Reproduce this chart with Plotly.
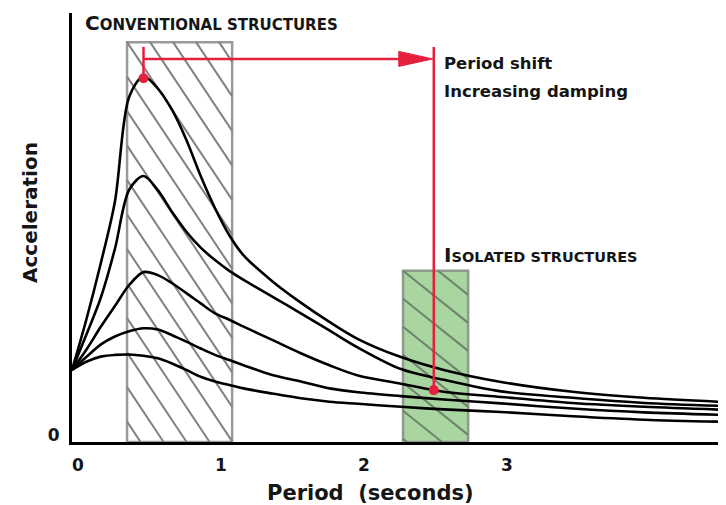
import numpy as np
import plotly.graph_objects as go

# ---------------- data ----------------
period = [0, 0.1, 0.2, 0.3, 0.4, 0.5, 0.6, 0.7, 0.8, 0.9, 1.0, 1.1, 1.2, 1.4, 1.6, 1.8,
          2.0, 2.3, 2.6, 3.0, 3.5, 4.0, 4.57]
accel_1 = [1.68, 2.85, 4.15, 5.60, 8.05, 8.52, 8.24, 7.74, 7.04, 6.20, 5.45, 4.82, 4.35,
           3.75, 3.25, 2.80, 2.40, 1.98, 1.68, 1.40, 1.17, 1.03, 0.93]
accel_2 = [1.68, 2.50, 3.35, 4.50, 5.88, 6.20, 5.87, 5.36, 4.90, 4.53, 4.24, 3.99, 3.78,
           3.39, 3.00, 2.60, 2.20, 1.70, 1.45, 1.18, 1.03, 0.91, 0.84]
accel_3 = [1.68, 2.15, 2.68, 3.17, 3.66, 3.96, 3.89, 3.70, 3.47, 3.23, 3.00, 2.85, 2.69,
           2.38, 2.07, 1.79, 1.55, 1.36, 1.17, 1.05, 0.91, 0.82, 0.75]
accel_4 = [1.68, 1.98, 2.27, 2.46, 2.58, 2.65, 2.62, 2.49, 2.34, 2.18, 2.03, 1.91, 1.79,
           1.56, 1.41, 1.25, 1.16, 1.07, 0.99, 0.90, 0.78, 0.69, 0.63]
accel_5 = [1.68, 1.87, 1.99, 2.03, 2.04, 2.01, 1.95, 1.83, 1.68, 1.52, 1.41, 1.33, 1.25,
           1.13, 1.02, 0.94, 0.89, 0.82, 0.76, 0.70, 0.60, 0.52, 0.47]
curves = [accel_1, accel_2, accel_3, accel_4, accel_5]

conv_band = [0.385, 1.12]     # period range of conventional structures
conv_top = 9.32
iso_band = [2.315, 2.77]      # period range of isolated structures
iso_top = 3.99

peak_point = [0.50, 8.48]     # conventional peak
iso_point = [2.53, 1.21]      # isolated point
shift_level = 8.93
marker_top = 9.21

x_ticks = [0, 1, 2, 3]
y_ticks = [0]

# ---------------- geometry ----------------
OFF = 8                      # page body margin
AX_L, AX_T, AX_B, AX_R = 72, 13, 442, 726   # plot box in window pixels
W, H = 726 - OFF, 505 - OFF
ML, MT = AX_L - OFF, AX_T - OFF
MR, MB = 0, H - (AX_B - OFF)
PW, PH = W - ML - MR, H - MT - MB
XMAX = PW / 143.0
YMAX = 10.0
PX_X = PW / XMAX
PX_Y = PH / YMAX

RED = "#e5203d"
FONT = "DejaVu Sans"
TXT = "#151515"


def paper_x(px):
    return (px - AX_L) / PW


def paper_y(py):
    return (AX_B - py) / PH


def hatch_segments(xa, xb, ya, yb, slope, spacing):
    w = (xb - xa) * PX_X
    h = (yb - ya) * PX_Y
    xs, ys = [], []
    c0 = -np.ceil(h / slope / spacing) * spacing
    for c in np.arange(c0, w, spacing):
        X0 = max(0.0, c)
        X1 = min(w, c + h / slope)
        if X1 <= X0:
            continue
        for X in (X0, X1):
            Y = slope * (X - c)
            xs.append(xa + X / PX_X)
            ys.append(yb - Y / PX_Y)
        xs.append(None)
        ys.append(None)
    return xs, ys


fig = go.Figure()

# bands
fig.add_shape(type="rect", x0=conv_band[0], x1=conv_band[1], y0=0, y1=conv_top,
              line=dict(color="#9a9a9a", width=2.5), fillcolor="rgba(255,255,255,0)",
              layer="below")
fig.add_shape(type="rect", x0=iso_band[0], x1=iso_band[1], y0=0, y1=iso_top,
              line=dict(color="#8e9a8c", width=2.5), fillcolor="#a9d5a1",
              layer="below")

hx, hy = hatch_segments(conv_band[0], conv_band[1], 0, conv_top, 1.5, 23)
fig.add_trace(go.Scatter(x=hx, y=hy, mode="lines", line=dict(color="#838383", width=2),
                         hoverinfo="skip", showlegend=False))
gx, gy = hatch_segments(iso_band[0], iso_band[1], 0, iso_top, 0.8, 35)
fig.add_trace(go.Scatter(x=gx, y=gy, mode="lines", line=dict(color="#6f836c", width=2),
                         hoverinfo="skip", showlegend=False))

# response curves
for acc in curves:
    fig.add_trace(go.Scatter(x=period, y=acc, mode="lines",
                             line=dict(color="black", width=2.6, shape="spline", smoothing=0.9),
                             hoverinfo="skip", showlegend=False))

# red period-shift arrow
tip_x = iso_point[0] - 1.0 / PX_X
fig.add_trace(go.Scatter(x=[peak_point[0], peak_point[0]], y=[peak_point[1], marker_top],
                         mode="lines", line=dict(color=RED, width=2.5), showlegend=False))
fig.add_trace(go.Scatter(x=[peak_point[0], tip_x - 30 / PX_X], y=[shift_level, shift_level],
                         mode="lines", line=dict(color=RED, width=2.5), showlegend=False))
fig.add_trace(go.Scatter(x=[iso_point[0], iso_point[0]], y=[iso_point[1], marker_top],
                         mode="lines", line=dict(color=RED, width=2.5), showlegend=False))
fig.add_trace(go.Scatter(
    x=[tip_x, tip_x - 34 / PX_X, tip_x - 34 / PX_X, tip_x],
    y=[shift_level, shift_level + 7.5 / PX_Y, shift_level - 7.5 / PX_Y, shift_level],
    mode="lines", fill="toself", fillcolor=RED, line=dict(color=RED, width=1),
    showlegend=False))
fig.add_trace(go.Scatter(x=[peak_point[0], iso_point[0]], y=[peak_point[1], iso_point[1]],
                         mode="markers", marker=dict(color=RED, size=10), showlegend=False))

# labels
fig.add_annotation(x=0.075, y=9.77, xanchor="left", yanchor="middle", showarrow=False,
                   text="<span style='font-size:20px'>C</span>ONVENTIONAL STRUCTURES",
                   font=dict(family=FONT, size=15, color=TXT, weight="bold"))
fig.add_annotation(x=2.585, y=4.36, xanchor="left", yanchor="middle", showarrow=False,
                   text="<span style='font-size:20px'>I</span>SOLATED STRUCTURES",
                   font=dict(family=FONT, size=14.5, color=TXT, weight="bold"))
fig.add_annotation(x=2.585, y=8.83, xanchor="left", yanchor="middle", showarrow=False,
                   text="Period shift",
                   font=dict(family=FONT, size=16.5, color=TXT, weight="bold"))
fig.add_annotation(x=2.585, y=8.18, xanchor="left", yanchor="middle", showarrow=False,
                   text="Increasing damping",
                   font=dict(family=FONT, size=16.5, color=TXT, weight="bold"))
fig.add_annotation(xref="paper", yref="paper", x=paper_x(30), y=paper_y(213),
                   xanchor="center", yanchor="middle",
                   textangle=-90, showarrow=False, text="Acceleration",
                   font=dict(family=FONT, size=20, color=TXT, weight="bold"))
fig.add_annotation(xref="paper", yref="paper", x=paper_x(370), y=paper_y(493),
                   xanchor="center", yanchor="middle",
                   showarrow=False, text="Period \u00a0(seconds)",
                   font=dict(family=FONT, size=21, color=TXT, weight="bold"))

fig.update_layout(
    width=W, height=H, margin=dict(l=ML, r=MR, t=MT, b=MB, autoexpand=False),
    paper_bgcolor="white", plot_bgcolor="white", showlegend=False,
    xaxis=dict(range=[0, XMAX], showgrid=False, zeroline=False, showline=True,
               linecolor="black", linewidth=3, tickvals=x_ticks, automargin=False,
               ticktext=[str(t) for t in x_ticks], ticks="",
               ticklabelstandoff=6, ticklabelshift=6,
               tickfont=dict(family=FONT, size=17, color=TXT, weight="bold")),
    yaxis=dict(range=[0, YMAX], showgrid=False, zeroline=False, showline=True,
               linecolor="black", linewidth=3, tickvals=y_ticks, automargin=False,
               ticktext=[str(t) for t in y_ticks], ticks="",
               ticklabelstandoff=6, ticklabelshift=-7,
               tickfont=dict(family=FONT, size=17, color=TXT, weight="bold")),
)

fig.write_html("out.html")
